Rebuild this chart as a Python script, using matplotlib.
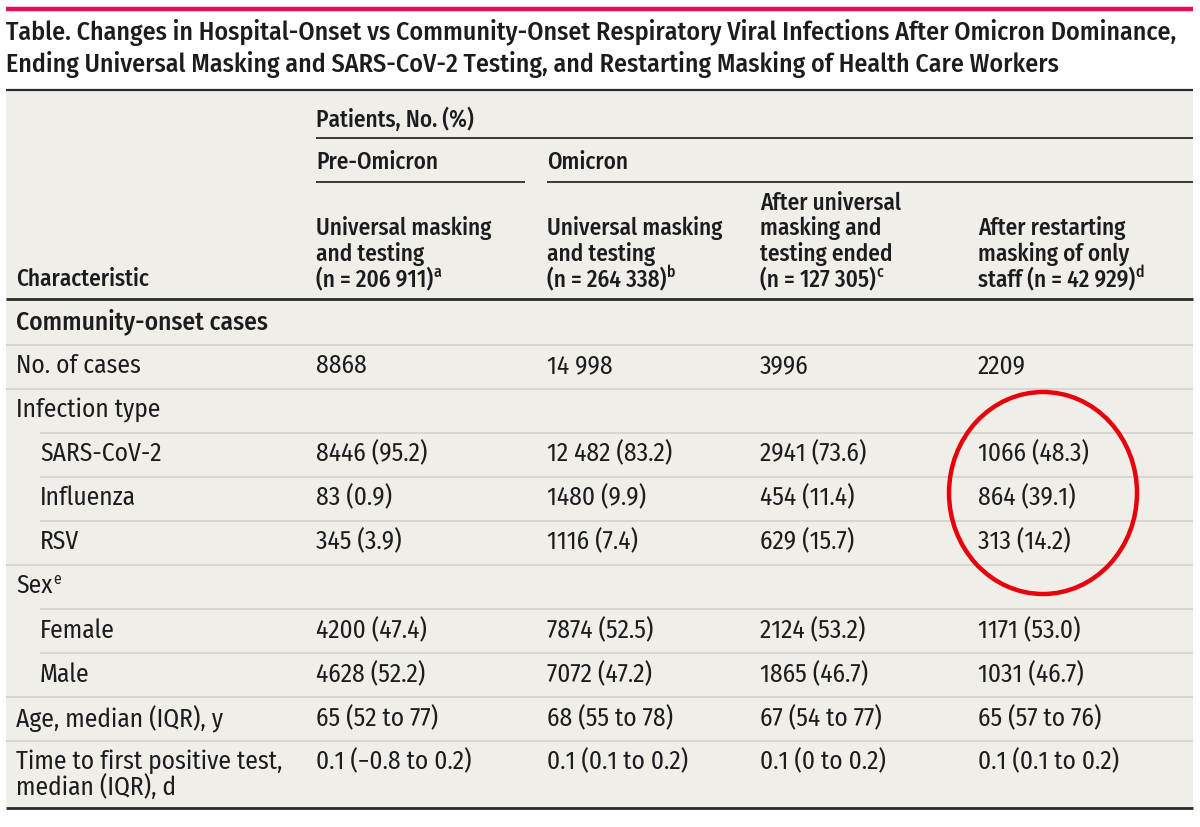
import matplotlib
matplotlib.use("Agg")
import matplotlib.pyplot as plt
from matplotlib import font_manager as fm
from matplotlib.patches import Rectangle, Ellipse

# ---------------- data ----------------
title_lines = [
    "Table. Changes in Hospital-Onset vs Community-Onset Respiratory Viral Infections After Omicron Dominance,",
    "Ending Universal Masking and SARS-CoV-2 Testing, and Restarting Masking of Health Care Workers",
]
spanner_top = "Patients, No. (%)"
spanner_groups = ["Pre-Omicron", "Omicron"]
col_headers = [
    "Characteristic",
    "Universal masking\nand testing\n(n = 206 911)",
    "Universal masking\nand testing\n(n = 264 338)",
    "After universal\nmasking and\ntesting ended\n(n = 127 305)",
    "After restarting\nmasking of only\nstaff (n = 42 929)",
]
col_footnotes = ["", "a", "b", "c", "d"]
row_labels = [
    "Community-onset cases", "No. of cases", "Infection type", "SARS-CoV-2",
    "Influenza", "RSV", "Sex", "Female", "Male", "Age, median (IQR), y",
    "Time to first positive test,\nmedian (IQR), d",
]
row_footnotes = ["", "", "", "", "", "", "e", "", "", "", ""]
pre_omicron = ["", "8868", "", "8446 (95.2)", "83 (0.9)", "345 (3.9)", "",
               "4200 (47.4)", "4628 (52.2)", "65 (52 to 77)", "0.1 (\u22120.8 to 0.2)"]
omicron_masking = ["", "14 998", "", "12 482 (83.2)", "1480 (9.9)", "1116 (7.4)", "",
                   "7874 (52.5)", "7072 (47.2)", "68 (55 to 78)", "0.1 (0.1 to 0.2)"]
after_ended = ["", "3996", "", "2941 (73.6)", "454 (11.4)", "629 (15.7)", "",
               "2124 (53.2)", "1865 (46.7)", "67 (54 to 77)", "0.1 (0 to 0.2)"]
after_restart = ["", "2209", "", "1066 (48.3)", "864 (39.1)", "313 (14.2)", "",
                 "1171 (53.0)", "1031 (46.7)", "65 (57 to 76)", "0.1 (0.1 to 0.2)"]

# ---------------- font selection ----------------
names = {f.name for f in fm.fontManager.ttflist}
FAMILY = next((c for c in ["Fira Sans Condensed", "PT Sans Narrow", "Roboto Condensed"] if c in names),
              "DejaVu Sans")
plt.rcParams["font.family"] = [FAMILY, "DejaVu Sans"]

W, H = 1200, 827
fig = plt.figure(figsize=(W / 100, H / 100), dpi=100)
ax = fig.add_axes([0, 0, 1, 1])
ax.set_xlim(0, W)
ax.set_ylim(H, 0)
ax.axis("off")
fig.canvas.draw()
renderer = fig.canvas.get_renderer()
inv = ax.transData.inverted()


def fit_size(s, target, weight):
    t = ax.text(0, 0, s, fontsize=20, fontweight=weight)
    w = t.get_window_extent(renderer=renderer).width
    t.remove()
    return 20 * target / w


INK = "#1c1c1c"
BG = "#f0eee9"
SEP = "#d3d1cb"
DARK = "#2b2b2b"
SEMI = "medium"
TITLE = fit_size(title_lines[0], 1170, SEMI)
HEAD = fit_size("Universal masking", 176, SEMI)
BODY = fit_size("Time to first positive test,", 266, "normal")
SUP = BODY * 0.62

L, R = 6, 1193
ax.plot([L, R], [9, 9], color="#e2105c", lw=3.2, solid_capstyle="butt")
for i, t in enumerate(title_lines):
    ax.text(L, 33 + 32 * i, t, fontsize=TITLE, fontweight=SEMI, color=INK,
            va="center", ha="left")

ax.add_patch(Rectangle((L, 90), R - L, 718, facecolor=BG, edgecolor="none", zorder=0))
ax.plot([L, R], [90, 90], color=DARK, lw=1.6, solid_capstyle="butt")

col_x = [16, 316, 547, 760, 978]

ax.text(col_x[1], 120, spanner_top, fontsize=HEAD, fontweight=SEMI, color=INK,
        va="center", ha="left")
ax.plot([col_x[1], R], [138, 138], color=DARK, lw=1.3, solid_capstyle="butt")
ax.text(col_x[1], 162, spanner_groups[0], fontsize=HEAD, fontweight=SEMI, color=INK,
        va="center", ha="left")
ax.text(col_x[2], 162, spanner_groups[1], fontsize=HEAD, fontweight=SEMI, color=INK,
        va="center", ha="left")
ax.plot([col_x[1], 525], [182, 182], color=DARK, lw=1.3, solid_capstyle="butt")
ax.plot([col_x[2], R], [182, 182], color=DARK, lw=1.3, solid_capstyle="butt")


def sup(txt_artist, s, line_y):
    bb = txt_artist.get_window_extent(renderer=renderer)
    x1 = inv.transform((bb.x1, bb.y0))[0]
    ax.text(x1 + 0.5, line_y - 7, s, fontsize=SUP, fontweight=txt_artist.get_fontweight(),
            color=INK, va="center", ha="left")


line_h = 25.3
last_y = 279
for j, h in enumerate(col_headers):
    lines = h.split("\n")
    n = len(lines)
    for k, ln in enumerate(lines):
        y = last_y - (n - 1 - k) * line_h
        t = ax.text(col_x[j], y, ln, fontsize=HEAD, fontweight=SEMI, color=INK,
                    va="center", ha="left")
        if k == n - 1 and col_footnotes[j]:
            sup(t, col_footnotes[j], y)

ax.plot([L, R], [299, 299], color=DARK, lw=2.0, solid_capstyle="butt")

row_y = [322, 366, 410, 454, 498, 542, 586, 631, 675, 719, 762]
sep_y = [345, 389, 433, 477, 521, 565, 609, 653, 697, 741]
sep_x0 = [L, L, 40, 40, 40, L, 40, 40, L, L]
indent = [False, False, False, True, True, True, False, True, True, False, False]
bold_row = [True] + [False] * 10

for y, x0 in zip(sep_y, sep_x0):
    ax.plot([x0, R], [y, y], color=SEP, lw=1.2, solid_capstyle="butt")

cols = [pre_omicron, omicron_masking, after_ended, after_restart]
for i, lab in enumerate(row_labels):
    y = row_y[i]
    x = 40 if indent[i] else col_x[0]
    lines = lab.split("\n")
    for k, ln in enumerate(lines):
        t = ax.text(x, y + k * 25, ln, fontsize=BODY,
                    fontweight=SEMI if bold_row[i] else "normal",
                    color=INK, va="center", ha="left")
        if row_footnotes[i]:
            sup(t, row_footnotes[i], y)
    for c, vals in enumerate(cols):
        if vals[i]:
            ax.text(col_x[c + 1], y, vals[i], fontsize=BODY, color=INK,
                    va="center", ha="left")

ax.plot([L, R], [808, 808], color=DARK, lw=2.0, solid_capstyle="butt")

ax.add_patch(Ellipse((1043, 493), 188, 202, fill=False, edgecolor="#e8000b", lw=3.2, zorder=5))

fig.savefig("out.png", dpi=100)
